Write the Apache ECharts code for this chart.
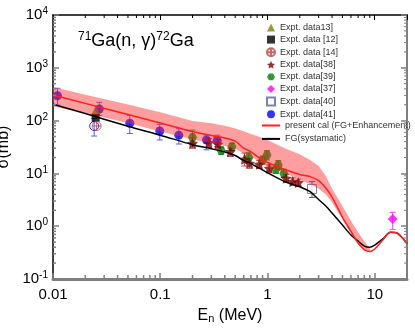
<!DOCTYPE html>
<html>
<head>
<meta charset="utf-8">
<script src="https://cdn.jsdelivr.net/npm/echarts@6/dist/echarts.min.js"></script>
<style>
html,body{margin:0;padding:0;background:#fff;}
#chart{width:415px;height:332px;}
</style>
</head>
<body>
<div id="chart"></div>
<script>
// calculated curves (E in MeV, sigma in mb)
var calcE = [0.01,0.02,0.05,0.1,0.2,0.3,0.4,0.5,0.6,0.7,0.8,1,1.5,2,2.5,3,3.5,4,5,6,7,8,9,10,12,14,16,18,20];
var presentCal = [305,212,130,90,62,52,46.8,40.7,30,25.8,21,16.1,11.6,9.5,8.7,7.3,5.3,3.57,1.49,0.8,0.48,0.36,0.33,0.37,0.56,0.77,0.75,0.61,0.47];
var fgSystematic = [204,136,78,53,35,29.2,25.4,21.8,17.6,15.3,13.2,10.3,6.8,5.6,4.5,3.2,2.41,1.78,1.05,0.68,0.52,0.42,0.40,0.44,0.58,0.77,0.75,0.61,0.47];

// band around present calculation
var bandE = [0.01,0.02,0.05,0.1,0.2,0.3,0.4,0.5,0.6,0.7,0.8,1,1.5,2,2.5,3,3.5,4,5,6,7,8,9];
var bandHigh = [433,310,202,144,98,89,80,71,63,56,51,43,29,23,18,13.8,8.9,5.1,2.4,1.25,0.77,0.52,0.38];
var bandLow = [185,140,90,62,44,37.7,33,29,24,21,17.5,13.4,10,7.5,6.2,5.2,4.0,2.8,1.35,0.72,0.45,0.34,0.33];

// experimental points: [E, sigma, low, high]
var exp13 = [[0.025,152]];
var exp12 = [[0.025,113]];
var exp14 = [[0.0255,79]];
var exp38 = [[0.2,37,30,47],[0.284,38,31,46],[0.345,36,29,44],[0.45,25.8,21,30],[0.61,18.5,13.8,24.3],[0.68,15.5,12.5,19],[0.84,14.9,12.5,17.5],[1.04,12.5,10.5,14.5],[1.49,8.1,6.8,9.5],[1.72,7.0,6.0,8.2],[1.94,6.7,5.7,7.8]];
var exp39 = [[0.2,48,37,66],[0.37,27,23,31],[0.466,32,27,37],[0.67,20,16,25],[0.9,18,15,21],[0.99,22.3,18,27],[1.2,12,10,14.5],[1.26,14.5,12,17.5],[1.42,10,8.5,12]];
var exp37 = [[14.7,1.37,0.87,1.83]];
var exp40 = [[2.6,5.07,3.5,7.0]];
var exp41 = [[0.011,296,197,410],[0.027,166,125,222],[0.052,89,57,125],[0.099,63.5,43,85],[0.149,53,36,70],[0.27,43,28,53],[0.34,42,32,53]];
var exp41open = [[0.0242,79,51,110]];

var xTickLabels = {'-2':'0.01','-1':'0.1','0':'1','1':'10'};
var yTickExps = ['-1','0','1','2','3','4'];

var FONT = '"Liberation Sans", Arial, sans-serif';
var starPath = 'path://M0,-10L2.9,-4L9.5,-3.1L4.8,1.5L5.9,8.1L0,5L-5.9,8.1L-4.8,1.5L-9.5,-3.1L-2.9,-4Z';
var hexPath = 'path://M-5,-8.66L5,-8.66L10,0L5,8.66L-5,8.66L-10,0Z';
var plusCircle = 'path://M-10,0A10,10 0 1 1 10,0A10,10 0 1 1 -10,0ZM-10,0L10,0M0,-10L0,10';

function pts(arr) { return arr.map(function (d) { return [d[0], d[1]]; }); }

function errBars(arr, color) {
  return {
    type: 'custom', name: 'err', z: 1, silent: true,
    data: arr.filter(function (d) { return d.length > 2; }).map(function (d) { return [d[0], d[2], d[3]]; }),
    encode: { x: 0, y: [1, 2] },
    renderItem: function (params, api) {
      var x = api.value(0);
      var lo = api.coord([x, api.value(1)]);
      var hi = api.coord([x, api.value(2)]);
      var w = 3;
      var st = { stroke: color, lineWidth: 1 };
      return { type: 'group', children: [
        { type: 'line', shape: { x1: lo[0], y1: lo[1], x2: hi[0], y2: hi[1] }, style: st },
        { type: 'line', shape: { x1: lo[0] - w, y1: lo[1], x2: lo[0] + w, y2: lo[1] }, style: st },
        { type: 'line', shape: { x1: hi[0] - w, y1: hi[1], x2: hi[0] + w, y2: hi[1] }, style: st }
      ] };
    }
  };
}

// minor ticks 2..9 per decade on all four sides
var minorTicks = [];
[0.01, 0.1, 1].forEach(function (d) { for (var k = 2; k <= 9; k++) minorTicks.push([d * k, 1, 0]); });
[0.1, 1, 10, 100, 1000].forEach(function (d) { for (var k = 2; k <= 9; k++) minorTicks.push([1, d * k, 1]); });

var legendText = { fontFamily: FONT, fontSize: 9, color: '#333' };

var chart = echarts.init(document.getElementById('chart'));
chart.setOption({
  animation: false,
  backgroundColor: '#fff',
  textStyle: { fontFamily: FONT },
  title: {
    text: '{sup|71}Ga(n, \u03b3){sup|72}Ga',
    left: 73, top: 26,
    textStyle: {
      fontFamily: FONT, fontSize: 18, fontWeight: 'normal', color: '#000', lineHeight: 21,
      rich: { sup: { fontFamily: FONT, fontSize: 12, lineHeight: 12, verticalAlign: 'top', color: '#000' } }
    }
  },
  legend: [{
    orient: 'vertical', left: 266, top: 23, padding: 0,
    itemWidth: 8, itemHeight: 8, itemGap: 3.1, itemTextGap: 7, symbolKeepAspect: true,
    textStyle: legendText,
    data: ['Expt. data13]', 'Expt. data [12]', 'Expt. data [14]', 'Expt. data[38]', 'Expt. data[39]',
      'Expt. data[37]', 'Expt. data[40]', 'Expt. data[41]']
  }, {
    orient: 'vertical', left: 262, top: 121, padding: 0,
    itemWidth: 18, itemHeight: 2, itemGap: 4.4, itemTextGap: 2, icon: 'rect',
    textStyle: legendText,
    data: ['present cal (FG+Enhancement)', 'FG(systamatic)']
  }],
  grid: { left: 53, right: 8, top: 15, bottom: 53, outerBoundsMode: 'none' },
  xAxis: [{
    type: 'log', logBase: 10, min: 0.01, max: 20, position: 'bottom',
    axisLine: { lineStyle: { color: '#7f7f7f', width: 3 } },
    axisTick: { inside: true, length: 6, lineStyle: { color: '#7f7f7f', width: 1.5 } },
    axisLabel: {
      margin: 8, fontSize: 15, color: '#000', fontFamily: FONT,
      formatter: function (v) { var p = Math.log10(v); var r = Math.round(p); return Math.abs(p - r) < 1e-6 ? (xTickLabels[r] || '') : ''; }
    },
    splitLine: { show: false },
    name: 'E{sub|n} (MeV)', nameLocation: 'middle', nameGap: 27,
    nameTextStyle: {
      fontFamily: FONT, fontSize: 16, color: '#000', lineHeight: 18,
      rich: { sub: { fontFamily: FONT, fontSize: 11, lineHeight: 11, verticalAlign: 'bottom', color: '#000' } }
    }
  }, {
    type: 'log', logBase: 10, min: 0.01, max: 20, position: 'top',
    axisLine: { lineStyle: { color: '#000', width: 1.5 } },
    axisTick: { inside: true, length: 5, lineStyle: { color: '#000', width: 1 } },
    axisLabel: { show: false }, splitLine: { show: false }
  }],
  yAxis: [{
    type: 'log', logBase: 10, min: 0.1, max: 10000, position: 'left',
    axisLine: { lineStyle: { color: '#000', width: 1.5 } },
    axisTick: { inside: true, length: 6, lineStyle: { color: '#7f7f7f', width: 1.5 } },
    axisLabel: {
      margin: 5, fontSize: 15, color: '#000', fontFamily: FONT, lineHeight: 17,
      formatter: function (v) { var r = Math.round(Math.log10(v)); return yTickExps.indexOf(String(r)) >= 0 ? '10{sup|' + r + '}' : ''; },
      rich: { sup: { fontFamily: FONT, fontSize: 10, lineHeight: 10, verticalAlign: 'top', color: '#000' } }
    },
    splitLine: { show: false },
    name: '\u03c3(mb)', nameLocation: 'middle', nameGap: 34,
    nameTextStyle: { fontFamily: FONT, fontSize: 16, color: '#000' }
  }, {
    type: 'log', logBase: 10, min: 0.1, max: 10000, position: 'right',
    axisLine: { lineStyle: { color: '#7f7f7f', width: 2 } },
    axisTick: { inside: true, length: 6, lineStyle: { color: '#7f7f7f', width: 1.5 } },
    axisLabel: { show: false }, splitLine: { show: false }
  }],
  series: [
    errBars(exp41, '#5a5aff'),
    errBars(exp41open, '#5a5aff'),
    errBars(exp38, '#b04848'),
    errBars(exp39, '#30a030'),
    errBars(exp40, '#5050c0'),
    errBars(exp37, '#ff40ff'),
    { name: 'Expt. data[41]', type: 'scatter', z: 2, symbol: 'circle', symbolSize: 9, itemStyle: { color: '#0000ff' }, data: pts(exp41) },
    { name: 'open41', type: 'scatter', z: 2, symbol: 'circle', symbolSize: 9, itemStyle: { color: 'rgba(0,0,0,0)', borderColor: '#0000ff', borderWidth: 1 }, data: pts(exp41open) },
    { name: 'Expt. data13]', type: 'scatter', z: 2, symbol: 'triangle', symbolSize: 10, itemStyle: { color: '#808000' }, data: pts(exp13) },
    { name: 'Expt. data [12]', type: 'scatter', z: 2, symbol: 'rect', symbolSize: 8, itemStyle: { color: '#000' }, data: pts(exp12) },
    { name: 'Expt. data [14]', type: 'scatter', z: 2, symbol: plusCircle, symbolSize: 9, itemStyle: { color: 'rgba(0,0,0,0)', borderColor: '#c04040', borderWidth: 1 }, data: pts(exp14) },
    { name: 'Expt. data[39]', type: 'scatter', z: 2, symbol: hexPath, symbolSize: 9, itemStyle: { color: '#008000' }, data: pts(exp39) },
    { name: 'Expt. data[38]', type: 'scatter', z: 2, symbol: starPath, symbolSize: 11, itemStyle: { color: '#800000' }, data: pts(exp38) },
    { name: 'Expt. data[37]', type: 'scatter', z: 2, symbol: 'diamond', symbolSize: 10, itemStyle: { color: '#ff00ff' }, data: pts(exp37) },
    { name: 'Expt. data[40]', type: 'scatter', z: 2, symbol: 'rect', symbolSize: 9, itemStyle: { color: '#fff', borderColor: '#6060a0', borderWidth: 1 }, data: pts(exp40) },
    {
      name: 'band', type: 'custom', z: 3, silent: true,
      data: bandE.map(function (e, i) { return [e, bandLow[i], bandHigh[i]]; }),
      encode: { x: 0, y: [1, 2] },
      renderItem: function (params, api) {
        if (params.dataIndex !== 0) return null;
        var poly = [];
        for (var i = 0; i < bandE.length; i++) poly.push(api.coord([bandE[i], bandHigh[i]]));
        for (var j = bandE.length - 1; j >= 0; j--) poly.push(api.coord([bandE[j], bandLow[j]]));
        return { type: 'polygon', shape: { points: poly }, style: { fill: 'rgba(255,40,40,0.45)' } };
      }
    },
    { name: 'FG(systamatic)', type: 'line', z: 4, symbol: 'none', smooth: 0.3, color: '#000', lineStyle: { color: '#000', width: 1.5 }, data: calcE.map(function (e, i) { return [e, fgSystematic[i]]; }) },
    { name: 'present cal (FG+Enhancement)', type: 'line', z: 4, symbol: 'none', smooth: 0.3, color: '#ff2020', lineStyle: { color: '#ff2020', width: 1.5 }, data: calcE.map(function (e, i) { return [e, presentCal[i]]; }) },
    {
      name: 'ticks', type: 'custom', z: 5, silent: true, clip: false,
      data: minorTicks,
      renderItem: function (params, api) {
        var cs = params.coordSys;
        var p = api.coord([api.value(0), api.value(1)]);
        if (api.value(2) === 0) {
          return { type: 'group', children: [
            { type: 'line', shape: { x1: p[0], y1: cs.y + cs.height, x2: p[0], y2: cs.y + cs.height - 4 }, style: { stroke: '#7f7f7f', lineWidth: 1.5 } },
            { type: 'line', shape: { x1: p[0], y1: cs.y, x2: p[0], y2: cs.y + 3 }, style: { stroke: '#000', lineWidth: 1 } }
          ] };
        }
        return { type: 'group', children: [
          { type: 'line', shape: { x1: cs.x, y1: p[1], x2: cs.x + 3, y2: p[1] }, style: { stroke: '#7f7f7f', lineWidth: 1.5 } },
          { type: 'line', shape: { x1: cs.x + cs.width, y1: p[1], x2: cs.x + cs.width - 3, y2: p[1] }, style: { stroke: '#7f7f7f', lineWidth: 1 } }
        ] };
      }
    }
  ]
});
</script>
</body>
</html>
